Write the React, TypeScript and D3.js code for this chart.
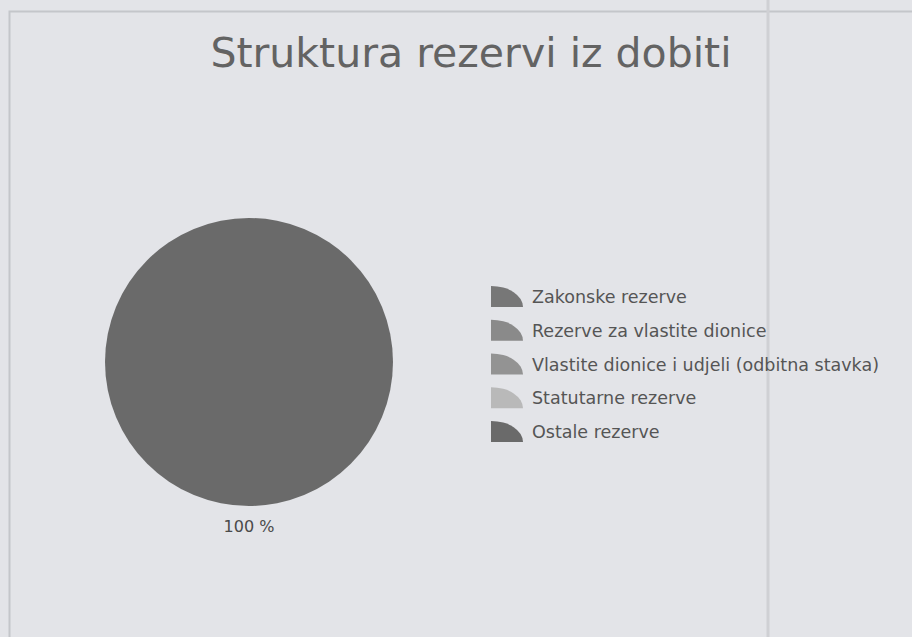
import React, { useEffect, useRef } from 'react';
import * as d3 from 'd3';

const categories = [
    'Zakonske rezerve',
    'Rezerve za vlastite dionice',
    'Vlastite dionice i udjeli (odbitna stavka)',
    'Statutarne rezerve',
    'Ostale rezerve',
];
const shares = [0, 0, 0, 0, 100];
const colors = ['#777777', '#8a8a8a', '#939393', '#b9b9b9', '#6a6a6a'];

const width = 912;
const height = 637;

const App: React.FC = () => {
    const ref = useRef<SVGSVGElement>(null);

    useEffect(() => {
        const svg = d3.select(ref.current);
        svg.selectAll('*').remove();

        svg.append('rect').attr('width', width).attr('height', height).attr('fill', '#e3e4e8');

        // frame of the scanned page
        svg.append('path')
            .attr('d', `M9.5,${height} V11.5 H${width}`)
            .attr('fill', 'none').attr('stroke', '#c4c6ca').attr('stroke-width', 2);
        svg.append('line')
            .attr('x1', 768).attr('x2', 768).attr('y1', 0).attr('y2', height)
            .attr('stroke', '#cfd0d4').attr('stroke-width', 3);

        svg.append('text')
            .attr('x', 471).attr('y', 67)
            .attr('text-anchor', 'middle')
            .attr('font-family', 'DejaVu Sans')
            .attr('font-size', 41)
            .attr('fill', '#636363')
            .text('Struktura rezervi iz dobiti');

        const radius = 144;
        const cx = 249, cy = 362;
        const total = d3.sum(shares);

        const pie = d3.pie<number>().sort(null).value((d) => d);
        const arcs = pie(shares);
        const arc = d3.arc<d3.PieArcDatum<number>>().innerRadius(0).outerRadius(radius);

        const group = svg.append('g').attr('transform', `translate(${cx}, ${cy})`);
        group.selectAll('path')
            .data(arcs.filter((a) => a.value > 0))
            .enter()
            .append('path')
            .attr('d', arc)
            .attr('fill', (d) => colors[d.index]);

        // percentage labels under the pie
        group.selectAll('text.pct')
            .data(arcs.filter((a) => a.value > 0))
            .enter()
            .append('text')
            .attr('class', 'pct')
            .attr('x', 0)
            .attr('y', radius + 26)
            .attr('text-anchor', 'middle')
            .attr('font-family', 'DejaVu Sans')
            .attr('font-size', 16)
            .attr('fill', '#4a4a4a')
            .text((d) => `${d3.format('.0f')((d.value / total) * 100)} %`);

        // legend
        const legendY = d3.scalePoint<string>().domain(categories).range([297, 432]);
        const marker = d3.arc()
            .innerRadius(0)
            .outerRadius(1)
            .startAngle(0)
            .endAngle(Math.PI / 2);

        const legend = svg.append('g')
            .selectAll('.legend')
            .data(categories)
            .enter()
            .append('g')
            .attr('class', 'legend')
            .attr('transform', (d) => `translate(491, ${legendY(d)})`);

        legend.append('path')
            .attr('d', marker({} as d3.DefaultArcObject) as string)
            .attr('transform', 'translate(0, 10) scale(32, 21)')
            .attr('fill', (d, i) => colors[i]);

        legend.append('text')
            .attr('x', 41)
            .attr('y', 6)
            .attr('font-family', 'DejaVu Sans')
            .attr('font-size', 17.5)
            .attr('fill', '#555555')
            .text((d) => d);
    }, []);

    return (
        <div style={{ position: 'absolute', left: 0, top: 0 }}>
            <svg ref={ref} width={width} height={height}></svg>
        </div>
    );
};

export default App;
